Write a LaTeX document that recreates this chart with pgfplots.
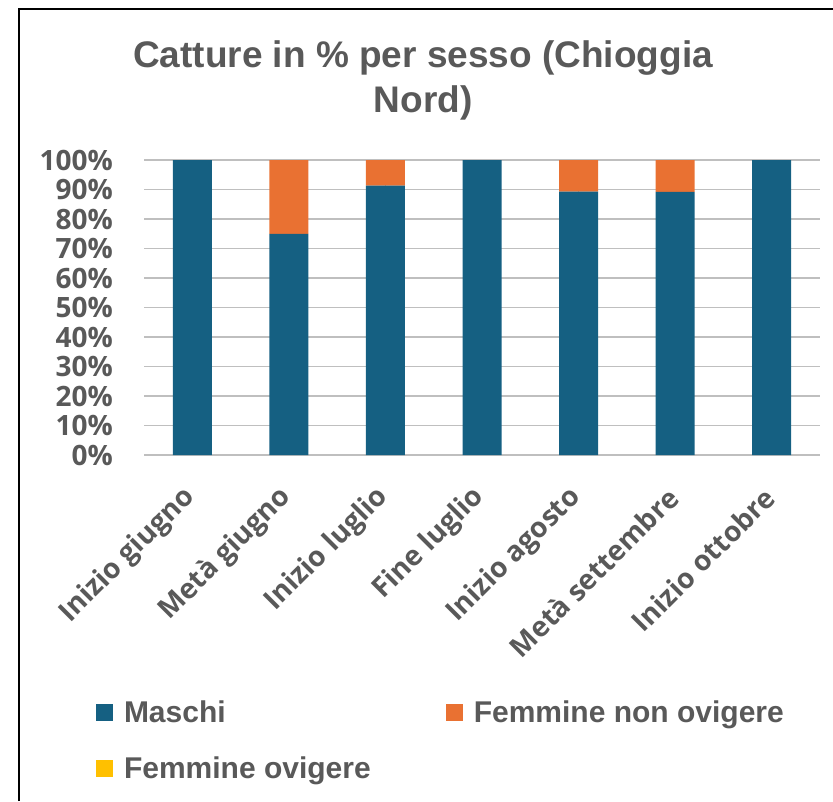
\documentclass[border=0pt]{standalone}
\usepackage{pgfplots}
\pgfplotsset{compat=1.18}
\usepackage{fontspec}
\setmainfont{Liberation Sans}
\newfontfamily\tickfont{Open Sans}
\definecolor{cBlue}{HTML}{156082}
\definecolor{cOrange}{HTML}{E97132}
\definecolor{cYellow}{HTML}{FFC000}
\definecolor{txt}{HTML}{595959}
\definecolor{grid}{HTML}{D9D9D9}
\begin{document}
\begin{tikzpicture}
\path[use as bounding box] (0pt,0pt) rectangle (833pt,-801pt);
\draw[line width=1.5pt,black] (19pt,-801pt) -- (19pt,-9pt) -- (833pt,-9pt);
\node[anchor=base,text=txt,font=\bfseries\fontsize{37}{37}\selectfont] at (423pt,-67pt) {Catture in \% per sesso (Chioggia};
\node[anchor=base,text=txt,font=\bfseries\fontsize{37}{37}\selectfont] at (423pt,-112pt) {Nord)};
\begin{axis}[
  at={(144pt,-455pt)}, anchor=south west,
  scale only axis, width=676pt, height=295pt,
  ybar stacked, bar width=39pt,
  xmin=-0.5, xmax=6.5, ymin=0, ymax=100,
  xtick={0,...,6},
  xticklabels={Inizio giugno,Metà giugno,Inizio luglio,Fine luglio,Inizio agosto,Metà settembre,Inizio ottobre},
  ytick={0,10,...,100},
  /pgf/number format/assume math mode=true,
  yticklabel={\pgfmathprintnumber{\tick}\%},
  axis line style={draw=none},
  major tick length=0pt,
  ymajorgrids, grid style={line width=1.5pt, grid},
  y tick label style={font=\tickfont\bfseries\fontsize{28}{28}\selectfont, text=txt, anchor=east, inner sep=0pt, xshift=-31pt},
  x tick label style={font=\tickfont\bfseries\fontsize{28}{28}\selectfont, text=txt, rotate=45, anchor=east, inner sep=0pt, xshift=-28pt, yshift=-25.5pt},
  legend columns=2,
  legend cell align=left,
  legend image code/.code={\fill[#1] (0pt,-8.5pt) rectangle (17pt,8.5pt);},
  legend style={draw=none, at={(-0.071,-0.827)}, anchor=north west, inner sep=0pt, outer sep=0pt,
    font=\bfseries\fontsize{30}{30}\selectfont, text=txt,
    row sep=29pt,
    /tikz/every odd column/.append style={column sep=9pt},
    /tikz/every even column/.append style={column sep=73pt}},
]
\addplot[fill=cBlue, draw=none] coordinates {(0,100) (1,75) (2,91.3) (3,100) (4,89.3) (5,89.2) (6,100)};
\addlegendentry{Maschi}
\addplot[fill=cOrange, draw=none] coordinates {(0,0) (1,25) (2,8.7) (3,0) (4,10.7) (5,10.8) (6,0)};
\addlegendentry{Femmine non ovigere}
\addplot[fill=cYellow, draw=none] coordinates {(0,0) (1,0) (2,0) (3,0) (4,0) (5,0) (6,0)};
\addlegendentry{Femmine ovigere}
\end{axis}
\end{tikzpicture}
\end{document}
